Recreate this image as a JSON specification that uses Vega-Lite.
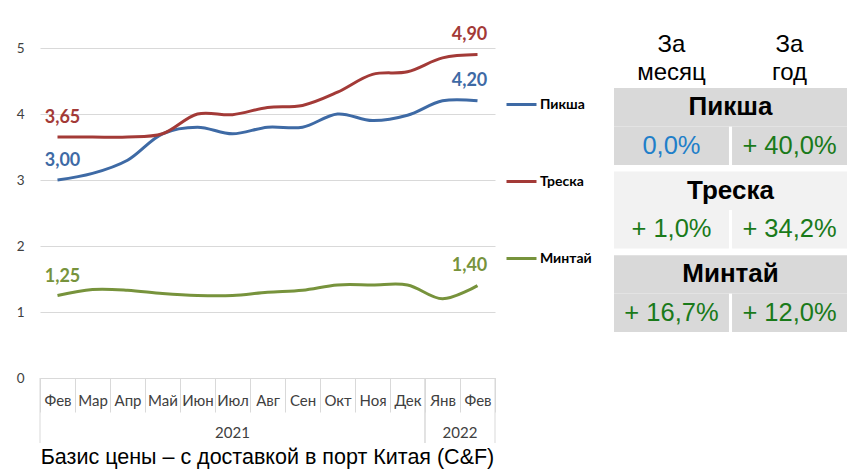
{
  "$schema": "https://vega.github.io/schema/vega-lite/v6.json",
  "background": "white",
  "padding": {"left": 5, "top": 25, "right": 5, "bottom": 5},
  "spacing": 118,
  "config": {
    "locale": {"number": {"decimal": ",", "thousands": " ", "grouping": [3], "currency": ["", ""]}},
    "view": {"stroke": null},
    "font": "Lato"
  },
  "datasets": {
    "prices": [
      {"m": "Фев 2021", "fish": "Пикша", "v": 3.00},
      {"m": "Мар 2021", "fish": "Пикша", "v": 3.10},
      {"m": "Апр 2021", "fish": "Пикша", "v": 3.30},
      {"m": "Май 2021", "fish": "Пикша", "v": 3.70},
      {"m": "Июн 2021", "fish": "Пикша", "v": 3.80},
      {"m": "Июл 2021", "fish": "Пикша", "v": 3.70},
      {"m": "Авг 2021", "fish": "Пикша", "v": 3.80},
      {"m": "Сен 2021", "fish": "Пикша", "v": 3.80},
      {"m": "Окт 2021", "fish": "Пикша", "v": 4.00},
      {"m": "Ноя 2021", "fish": "Пикша", "v": 3.90},
      {"m": "Дек 2021", "fish": "Пикша", "v": 3.98},
      {"m": "Янв 2022", "fish": "Пикша", "v": 4.20},
      {"m": "Фев 2022", "fish": "Пикша", "v": 4.20},
      {"m": "Фев 2021", "fish": "Треска", "v": 3.65},
      {"m": "Мар 2021", "fish": "Треска", "v": 3.65},
      {"m": "Апр 2021", "fish": "Треска", "v": 3.65},
      {"m": "Май 2021", "fish": "Треска", "v": 3.70},
      {"m": "Июн 2021", "fish": "Треска", "v": 4.00},
      {"m": "Июл 2021", "fish": "Треска", "v": 3.99},
      {"m": "Авг 2021", "fish": "Треска", "v": 4.10},
      {"m": "Сен 2021", "fish": "Треска", "v": 4.13},
      {"m": "Окт 2021", "fish": "Треска", "v": 4.33},
      {"m": "Ноя 2021", "fish": "Треска", "v": 4.60},
      {"m": "Дек 2021", "fish": "Треска", "v": 4.64},
      {"m": "Янв 2022", "fish": "Треска", "v": 4.85},
      {"m": "Фев 2022", "fish": "Треска", "v": 4.90},
      {"m": "Фев 2021", "fish": "Минтай", "v": 1.25},
      {"m": "Мар 2021", "fish": "Минтай", "v": 1.34},
      {"m": "Апр 2021", "fish": "Минтай", "v": 1.33},
      {"m": "Май 2021", "fish": "Минтай", "v": 1.28},
      {"m": "Июн 2021", "fish": "Минтай", "v": 1.25},
      {"m": "Июл 2021", "fish": "Минтай", "v": 1.25},
      {"m": "Авг 2021", "fish": "Минтай", "v": 1.30},
      {"m": "Сен 2021", "fish": "Минтай", "v": 1.33},
      {"m": "Окт 2021", "fish": "Минтай", "v": 1.41},
      {"m": "Ноя 2021", "fish": "Минтай", "v": 1.41},
      {"m": "Дек 2021", "fish": "Минтай", "v": 1.41},
      {"m": "Янв 2022", "fish": "Минтай", "v": 1.20},
      {"m": "Фев 2022", "fish": "Минтай", "v": 1.40}
    ],
    "years": [
      {"yr": "2021", "first": "Фев 2021", "last": "Дек 2021", "mid": "Июл 2021"},
      {"yr": "2022", "first": "Янв 2022", "last": "Фев 2022", "mid": "Янв 2022"}
    ],
    "table": [
      {"fish": "Пикша", "part": "h"},
      {"fish": "Треска", "part": "h"},
      {"fish": "Минтай", "part": "h"},
      {"fish": "Пикша", "part": "v", "col": "За месяц", "txt": "0,0%", "v": 0.0},
      {"fish": "Пикша", "part": "v", "col": "За год", "txt": "+ 40,0%", "v": 40.0},
      {"fish": "Треска", "part": "v", "col": "За месяц", "txt": "+ 1,0%", "v": 1.0},
      {"fish": "Треска", "part": "v", "col": "За год", "txt": "+ 34,2%", "v": 34.2},
      {"fish": "Минтай", "part": "v", "col": "За месяц", "txt": "+ 16,7%", "v": 16.7},
      {"fish": "Минтай", "part": "v", "col": "За год", "txt": "+ 12,0%", "v": 12.0}
    ]
  },
  "hconcat": [
    {
      "width": 455,
      "height": 330,
      "title": {"text": "Базис цены – с доставкой в порт Китая (C&F)", "orient": "bottom", "anchor": "middle", "font": "Liberation Sans", "fontSize": 21.5, "fontWeight": "normal", "color": "black", "offset": 3},
      "encoding": {
        "x": {
          "field": "m", "type": "nominal", "title": null,
          "scale": {"type": "band", "domain": ["Фев 2021", "Мар 2021", "Апр 2021", "Май 2021", "Июн 2021", "Июл 2021", "Авг 2021", "Сен 2021", "Окт 2021", "Ноя 2021", "Дек 2021", "Янв 2022", "Фев 2022"], "paddingInner": 0, "paddingOuter": 0},
          "axis": {"labelExpr": "split(datum.label, ' ')[0]", "labelAngle": 0, "labelFontSize": 15, "labelColor": "#404040", "labelPadding": -18.5, "tickBand": "extent", "tickSize": 34, "tickColor": "#d9d9d9", "domainColor": "#d9d9d9", "grid": false}
        }
      },
      "layer": [
        {
          "data": {"name": "prices"},
          "mark": {"type": "line", "interpolate": "catmull-rom", "strokeWidth": 3, "clip": false},
          "encoding": {
            "y": {"field": "v", "type": "quantitative", "title": null, "scale": {"domain": [0, 5], "nice": false}, "axis": {"values": [0, 1, 2, 3, 4, 5], "format": "d", "domain": false, "ticks": false, "gridColor": "#d9d9d9", "labelFontSize": 13.5, "labelColor": "#404040", "labelPadding": 16, "minExtent": 35, "maxExtent": 35}},
            "color": {"field": "fish", "type": "nominal", "scale": {"domain": ["Пикша", "Треска", "Минтай"], "range": ["#3e6aa5", "#a33a37", "#77933c"]}, "legend": {"title": null, "orient": "none", "legendX": 465, "legendY": 40, "symbolType": "stroke", "symbolSize": 900, "symbolStrokeWidth": 3, "labelFontSize": 14, "labelFontWeight": "bold", "labelColor": "black", "labelOffset": 2, "rowPadding": 53}}
          }
        },
        {
          "data": {"name": "prices"},
          "transform": [{"filter": "datum.m == 'Фев 2021'"}],
          "mark": {"type": "text", "fontSize": 18, "fontWeight": "bold", "dy": -19, "dx": 5, "baseline": "middle"},
          "encoding": {
            "y": {"field": "v", "type": "quantitative"},
            "text": {"field": "v", "type": "quantitative", "format": ".2f"},
            "color": {"field": "fish", "type": "nominal"}
          }
        },
        {
          "data": {"name": "prices"},
          "transform": [{"filter": "datum.m == 'Фев 2022'"}],
          "mark": {"type": "text", "fontSize": 18, "fontWeight": "bold", "dy": -20, "dx": -8, "baseline": "middle"},
          "encoding": {
            "y": {"field": "v", "type": "quantitative"},
            "text": {"field": "v", "type": "quantitative", "format": ".2f"},
            "color": {"field": "fish", "type": "nominal"}
          }
        },
        {
          "data": {"name": "years"},
          "mark": {"type": "rule", "color": "#d9d9d9", "strokeWidth": 1},
          "encoding": {
            "x": {"field": "first", "type": "nominal", "bandPosition": 0},
            "y": {"datum": 0},
            "y2": {"datum": -0.985}
          }
        },
        {
          "data": {"name": "years"},
          "mark": {"type": "rule", "color": "#d9d9d9", "strokeWidth": 1},
          "encoding": {
            "x": {"field": "last", "type": "nominal", "bandPosition": 1},
            "y": {"datum": 0},
            "y2": {"datum": -0.985}
          }
        },
        {
          "data": {"name": "years"},
          "transform": [{"filter": "datum.yr == '2021'"}],
          "mark": {"type": "text", "fontSize": 15, "color": "#404040", "baseline": "middle"},
          "encoding": {
            "x": {"field": "mid", "type": "nominal", "bandPosition": 0.5},
            "y": {"datum": -0.833},
            "text": {"field": "yr"}
          }
        },
        {
          "data": {"name": "years"},
          "transform": [{"filter": "datum.yr == '2022'"}],
          "mark": {"type": "text", "fontSize": 15, "color": "#404040", "baseline": "middle"},
          "encoding": {
            "x": {"field": "mid", "type": "nominal", "bandPosition": 1},
            "y": {"datum": -0.833},
            "text": {"field": "yr"}
          }
        }
      ]
    },
    {
      "data": {"name": "table"},
      "width": 233,
      "height": 284,
      "encoding": {
        "y": {"field": "fish", "type": "nominal", "axis": null, "scale": {"domain": ["Пикша", "Треска", "Минтай"], "paddingInner": 0.08, "paddingOuter": 0.24, "align": 1}},
        "yOffset": {"field": "part", "type": "nominal", "scale": {"domain": ["h", "v"], "paddingInner": 0, "paddingOuter": 0}}
      },
      "layer": [
        {
          "transform": [{"filter": "datum.part == 'h'"}],
          "mark": {"type": "rect"},
          "encoding": {
            "fill": {"field": "fish", "type": "nominal", "legend": null, "scale": {"domain": ["Пикша", "Треска", "Минтай"], "range": ["#d9d9d9", "#f2f2f2", "#d9d9d9"]}}
          }
        },
        {
          "transform": [{"filter": "datum.part == 'v'"}],
          "mark": {"type": "rect"},
          "encoding": {
            "x": {"field": "col", "type": "nominal", "title": null, "scale": {"domain": ["За месяц", "За год"], "paddingInner": 0.026, "paddingOuter": 0}, "axis": {"orient": "top", "domain": false, "ticks": false, "labelAngle": 0, "labelExpr": "split(datum.label, ' ')", "labelFont": "Liberation Sans", "labelFontSize": 24, "labelColor": "black", "labelLineHeight": 28.5, "labelPadding": -8}},
            "fill": {"field": "fish", "type": "nominal", "legend": null}
          }
        },
        {
          "transform": [{"filter": "datum.part == 'h'"}],
          "mark": {"type": "text", "font": "Liberation Sans", "fontSize": 26, "fontWeight": "bold", "color": "black", "baseline": "middle"},
          "encoding": {"text": {"field": "fish"}}
        },
        {
          "transform": [{"filter": "datum.part == 'v'"}],
          "mark": {"type": "text", "font": "Liberation Sans", "fontSize": 25.5, "baseline": "middle"},
          "encoding": {
            "x": {"field": "col", "type": "nominal"},
            "text": {"field": "txt"},
            "color": {"condition": {"test": "datum.v == 0", "value": "#1f7fc9"}, "value": "#1a7a1a"}
          }
        }
      ]
    }
  ]
}
